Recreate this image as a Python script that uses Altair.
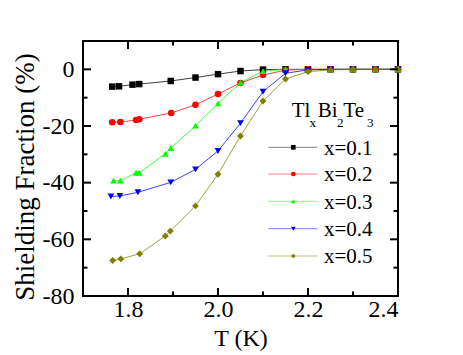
import altair as alt
import pandas as pd

# ---- data ----
labels = ["x=0.1", "x=0.2", "x=0.3", "x=0.4", "x=0.5"]
colors = ["#000000", "#ff0000", "#00ff00", "#0000ff", "#808000"]
shapes = ["square", "circle", "triangle-up", "triangle-down", "diamond"]
sizes = [42, 48, 50, 50, 62]

T_01 = [1.765, 1.78, 1.81, 1.825, 1.895, 1.95, 2.0, 2.05, 2.1, 2.15, 2.2, 2.25, 2.3, 2.35, 2.4]
V_01 = [-6.1, -6.0, -5.4, -5.2, -4.1, -2.9, -1.7, -0.6, -0.1, 0, 0, 0, 0, 0, 0]

T_02 = [1.765, 1.783, 1.818, 1.825, 1.896, 1.95, 2.0, 2.05, 2.1, 2.15, 2.2, 2.25, 2.3, 2.35, 2.4]
V_02 = [-18.7, -18.6, -17.9, -17.6, -15.4, -12.5, -8.7, -4.8, -2.0, -0.3, 0, 0, 0, 0, 0]

T_03 = [1.768, 1.783, 1.818, 1.825, 1.883, 1.895, 1.95, 2.0, 2.05, 2.1, 2.15, 2.2, 2.25, 2.3, 2.35, 2.4]
V_03 = [-39.3, -39.3, -36.5, -36.5, -29.8, -27.8, -19.9, -12.0, -4.7, -0.6, 0, 0, 0, 0, 0, 0]

T_04 = [1.762, 1.782, 1.822, 1.895, 1.95, 2.0, 2.05, 2.1, 2.15, 2.2, 2.25, 2.3, 2.35, 2.4]
V_04 = [-44.9, -44.7, -43.4, -39.9, -35.3, -28.8, -19.0, -7.9, -1.4, -0.2, 0, 0, 0, 0]

T_05 = [1.766, 1.784, 1.826, 1.883, 1.894, 1.95, 2.0, 2.05, 2.1, 2.15, 2.2, 2.25, 2.3, 2.35, 2.4]
V_05 = [-67.5, -66.9, -65.1, -58.8, -57.1, -48.2, -37.0, -23.5, -11.2, -3.4, -0.8, -0.2, 0, 0, 0]

x_major = [1.8, 2.0, 2.2]
x_minor = [1.9, 2.1, 2.3]
y_major = [0, -20, -40, -60]
y_minor = [-10, -30, -50, -70]
x_labels = [1.8, 2.0, 2.2, 2.4]
y_labels = [0, -20, -40, -60, -80]

FONT = "Liberation Serif"
W, H = 315, 255

series = [(labels[0], T_01, V_01), (labels[1], T_02, V_02), (labels[2], T_03, V_03),
          (labels[3], T_04, V_04), (labels[4], T_05, V_05)]
rows = []
for lab, ts, vs in series:
    for t, v in zip(ts, vs):
        rows.append({"series": lab, "T": t, "V": v})
df = pd.DataFrame(rows)

xscale = alt.Scale(domain=[1.7, 2.4], nice=False, zero=False)
yscale = alt.Scale(domain=[-80, 10], nice=False, zero=False)
cscale = alt.Scale(domain=labels, range=colors)
sscale = alt.Scale(domain=labels, range=shapes)
zscale = alt.Scale(domain=labels, range=sizes)

xaxis = alt.Axis(values=x_labels, format=".1f", ticks=False, tickSize=0, domain=False, grid=False,
                 labelFont=FONT, labelFontSize=24, labelColor="black", labelPadding=1,
                 title="T (K)", titleFont=FONT, titleFontSize=24, titleFontWeight="normal",
                 titleColor="black", titleBaseline="alphabetic", titleY=49, titleX=W / 2,
                 titleAlign="center")
yaxis = alt.Axis(values=y_labels, labelExpr="'' + datum.value", ticks=False, tickSize=0,
                 domain=False, grid=False, labelFont=FONT, labelFontSize=24, labelColor="black",
                 labelPadding=9, title="Shielding Fraction (%)", titleFont=FONT, titleFontSize=27,
                 titleFontWeight="normal", titleColor="black", titleAngle=-90,
                 titleBaseline="alphabetic", titleX=-49.5, titleY=135.5, titleAlign="center")

base = alt.Chart(df)
lines = base.mark_line(strokeWidth=1, opacity=0.75).encode(
    x=alt.X("T:Q", scale=xscale, axis=xaxis),
    y=alt.Y("V:Q", scale=yscale, axis=yaxis),
    color=alt.Color("series:N", scale=cscale, legend=None),
    detail="series:N",
    order="T:Q",
)
points = base.mark_point(filled=True, opacity=1).encode(
    x=alt.X("T:Q", scale=xscale),
    y=alt.Y("V:Q", scale=yscale),
    color=alt.Color("series:N", scale=cscale, legend=None),
    shape=alt.Shape("series:N", scale=sscale, legend=None),
    size=alt.Size("series:N", scale=zscale, legend=None),
)

layers = [lines, points]

# ---- inward ticks on all four sides ----
def xticks(vals, length, top):
    d = pd.DataFrame({"t": vals})
    if top:
        yy, yy2 = 0, length
    else:
        yy, yy2 = H, H - length
    return alt.Chart(d).mark_rule(color="black", strokeWidth=2).encode(
        x=alt.X("t:Q", scale=xscale), y=alt.value(yy), y2=alt.value(yy2))

def yticks(vals, length, right):
    d = pd.DataFrame({"v": vals})
    if right:
        xx, xx2 = W, W - length
    else:
        xx, xx2 = 0, length
    return alt.Chart(d).mark_rule(color="black", strokeWidth=2).encode(
        y=alt.Y("v:Q", scale=yscale), x=alt.value(xx), x2=alt.value(xx2))

for side in (False, True):
    layers.append(xticks(x_major, 8, side))
    layers.append(xticks(x_minor, 4.5, side))
    layers.append(yticks(y_major, 8, side))
    layers.append(yticks(y_minor, 4.5, side))

# ---- legend (drawn by hand to mimic the original) ----
one = pd.DataFrame({"a": [0]})
title_parts = [("Tl", 208.7, 76.3, 21), ("x", 226.6, 86.3, 13), ("Bi", 234.7, 76.3, 21),
               ("2", 253.9, 86.3, 13), ("Te", 260.3, 76.3, 21), ("3", 283.9, 86.3, 13)]
for txt, tx, ty, fs in title_parts:
    layers.append(alt.Chart(one).mark_text(text=txt, font=FONT, fontSize=fs, color="black",
                                           align="left", baseline="alphabetic")
                  .encode(x=alt.value(tx), y=alt.value(ty)))

leg_y = [106.3, 133.0, 160.3, 187.7, 215.0]
for lab, col, shp, ly in zip(labels, colors, shapes, leg_y):
    layers.append(alt.Chart(one).mark_rule(color=col, strokeWidth=1, opacity=0.5)
                  .encode(x=alt.value(185.3), x2=alt.value(234.3), y=alt.value(ly)))
    layers.append(alt.Chart(one).mark_point(shape=shp, filled=True, color=col, size=22, opacity=1)
                  .encode(x=alt.value(210.3), y=alt.value(ly)))
    layers.append(alt.Chart(one).mark_text(text=lab, font=FONT, fontSize=21, color="black",
                                           align="left", baseline="alphabetic")
                  .encode(x=alt.value(241), y=alt.value(ly + 7.2)))

chart = alt.layer(*layers).properties(
    width=W, height=H,
    autosize=alt.AutoSizeParams(type="none"),
    padding={"left": 75, "top": 33, "right": 50, "bottom": 55},
    background="white",
).configure(font=FONT).configure_view(stroke="black", strokeWidth=2)

chart.save("out.html", embed_options={"renderer": "svg", "actions": False})
